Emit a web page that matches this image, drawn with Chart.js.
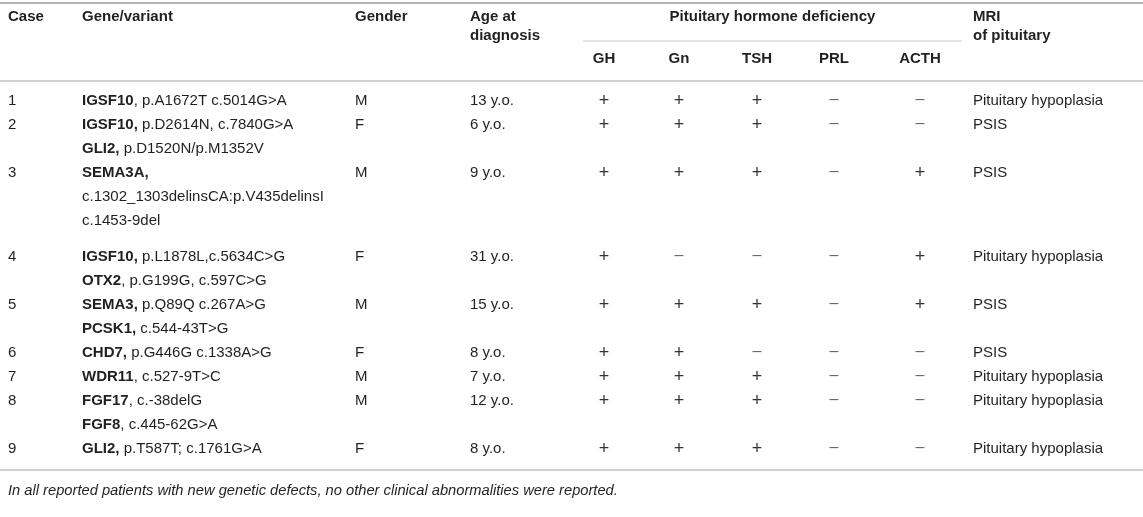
<!DOCTYPE html>
<html>
<head>
<meta charset="utf-8">
<script src="https://cdn.jsdelivr.net/npm/chart.js@4.4.1/dist/chart.umd.min.js"></script>
<style>
  html, body { margin: 0; padding: 0; background: #fff; }
  #wrap { width: 1143px; height: 517px; position: relative; }
</style>
</head>
<body>
<div id="wrap"><canvas id="tabla"></canvas></div>
<script>
// datos de la tabla
const cases = ['1', '2', '3', '4', '5', '6', '7', '8', '9'];
// ** marca el texto en negrita (nombre del gen)
const genes = [
  ['**IGSF10**, p.A1672T c.5014G>A'],
  ['**IGSF10,** p.D2614N, c.7840G>A', '**GLI2,** p.D1520N/p.M1352V'],
  ['**SEMA3A,**', 'c.1302_1303delinsCA:p.V435delinsI', 'c.1453-9del'],
  ['**IGSF10,** p.L1878L,c.5634C>G', '**OTX2**, p.G199G, c.597C>G'],
  ['**SEMA3,** p.Q89Q c.267A>G', '**PCSK1,** c.544-43T>G'],
  ['**CHD7,** p.G446G c.1338A>G'],
  ['**WDR11**, c.527-9T>C'],
  ['**FGF17**, c.-38delG', '**FGF8**, c.445-62G>A'],
  ['**GLI2,** p.T587T; c.1761G>A']
];
const genders = ['M', 'F', 'M', 'F', 'M', 'F', 'M', 'M', 'F'];
const ages = ['13 y.o.', '6 y.o.', '9 y.o.', '31 y.o.', '15 y.o.', '8 y.o.', '7 y.o.', '12 y.o.', '8 y.o.'];
const GH   = ['+', '+', '+', '+', '+', '+', '+', '+', '+'];
const Gn   = ['+', '+', '+', '–', '+', '+', '+', '+', '+'];
const TSH  = ['+', '+', '+', '–', '+', '–', '+', '+', '+'];
const PRL  = ['–', '–', '–', '–', '–', '–', '–', '–', '–'];
const ACTH = ['–', '–', '+', '+', '+', '–', '–', '–', '–'];
const mri  = ['Pituitary hypoplasia', 'PSIS', 'PSIS', 'Pituitary hypoplasia', 'PSIS', 'PSIS',
              'Pituitary hypoplasia', 'Pituitary hypoplasia', 'Pituitary hypoplasia'];
const hormoneLabels = ['GH', 'Gn', 'TSH', 'PRL', 'ACTH'];
const footnote = 'In all reported patients with new genetic defects, no other clinical abnormalities were reported.';

// layout (en pixeles del lienzo)
const W = 1143, H = 517;
const colX = { caso: 8, gen: 82, sexo: 355, edad: 470, mri: 973 };
const hormoneX = [604, 679, 757, 834, 920];
const firstLineY = 101, linePitch = 24, extraGapAfter = { 2: 12 };
const FONT = '"Liberation Sans", Arial, Helvetica, sans-serif';
const FS = 15;
const ink = '#231f20';

// posición vertical de cada línea de cada caso
const rowLines = [];
let yy = firstLineY;
genes.forEach((lines, i) => {
  const ys = [];
  lines.forEach(() => { ys.push(yy); yy += linePitch; });
  rowLines.push(ys);
  if (extraGapAfter[i]) yy += extraGapAfter[i];
});

function cellPoints(values, x) {
  return values.map((v, i) => ({ x: x, y: rowLines[i][0], text: v }));
}

const datasets = [
  { label: 'Case', data: cellPoints(cases, colX.caso), align: 'left' },
  { label: 'Gene/variant', data: genes.flatMap((lines, i) => lines.map((t, k) => ({ x: colX.gen, y: rowLines[i][k], text: t }))), align: 'left' },
  { label: 'Gender', data: cellPoints(genders, colX.sexo), align: 'left' },
  { label: 'Age', data: cellPoints(ages, colX.edad), align: 'left' },
  { label: 'GH', data: cellPoints(GH, hormoneX[0]), align: 'center', sign: true },
  { label: 'Gn', data: cellPoints(Gn, hormoneX[1]), align: 'center', sign: true },
  { label: 'TSH', data: cellPoints(TSH, hormoneX[2]), align: 'center', sign: true },
  { label: 'PRL', data: cellPoints(PRL, hormoneX[3]), align: 'center', sign: true },
  { label: 'ACTH', data: cellPoints(ACTH, hormoneX[4]), align: 'center', sign: true },
  { label: 'MRI', data: cellPoints(mri, colX.mri), align: 'left' }
].map(d => Object.assign(d, { pointRadius: 0, pointHoverRadius: 0, showLine: false }));

// dibuja texto con tramos en negrita
function drawRich(ctx, str, x, y, align) {
  const parts = str.split('**').map((t, i) => ({ t: t, b: i % 2 === 1 })).filter(p => p.t);
  let total = 0;
  parts.forEach(p => { ctx.font = (p.b ? 'bold ' : '') + FS + 'px ' + FONT; total += ctx.measureText(p.t).width; });
  let cx = align === 'center' ? x - total / 2 : x;
  ctx.textAlign = 'left';
  parts.forEach(p => {
    ctx.font = (p.b ? 'bold ' : '') + FS + 'px ' + FONT;
    ctx.fillText(p.t, cx, y);
    cx += ctx.measureText(p.t).width;
  });
}

const tablePlugin = {
  id: 'tablePlugin',
  afterDatasetsDraw(chart) {
    const ctx = chart.ctx;
    const xs = chart.scales.x, ys = chart.scales.y;
    const px = v => xs.getPixelForValue(v), py = v => ys.getPixelForValue(v);
    ctx.save();
    ctx.fillStyle = ink;
    ctx.textBaseline = 'middle';

    // reglas
    const rule = (x0, x1, y, w, c) => {
      ctx.strokeStyle = c; ctx.lineWidth = w;
      ctx.beginPath(); ctx.moveTo(px(x0), py(y)); ctx.lineTo(px(x1), py(y)); ctx.stroke();
    };
    rule(0, W, 3, 2, '#b3b3b3');
    rule(583, 962, 41, 1, '#c8c8c8');
    rule(0, W, 81, 1.5, '#c0c0c0');
    rule(0, W, 470, 1.5, '#c0c0c0');

    // encabezados
    const bold = 'bold ' + FS + 'px ' + FONT;
    ctx.font = bold; ctx.textAlign = 'left';
    ctx.fillText('Case', px(colX.caso), py(17));
    ctx.fillText('Gene/variant', px(colX.gen), py(17));
    ctx.fillText('Gender', px(colX.sexo), py(17));
    ctx.fillText('Age at', px(colX.edad), py(17));
    ctx.fillText('diagnosis', px(colX.edad), py(36));
    ctx.fillText('MRI', px(colX.mri), py(17));
    ctx.fillText('of pituitary', px(colX.mri), py(36));
    ctx.textAlign = 'center';
    ctx.fillText('Pituitary hormone deficiency', px((583 + 962) / 2), py(17));
    hormoneLabels.forEach((h, i) => ctx.fillText(h, px(hormoneX[i]), py(59)));

    // celdas: posición tomada de los elementos del gráfico
    chart.data.datasets.forEach((ds, di) => {
      const meta = chart.getDatasetMeta(di);
      meta.data.forEach((el, k) => {
        const t = ds.data[k].text;
        if (ds.sign) {
          // signos +/– algo más grandes y finos, como en la tabla original
          ctx.textAlign = 'center';
          if (t === '+') {
            ctx.font = '18px ' + FONT;
            ctx.fillStyle = '#333';
            ctx.fillText(t, el.x, el.y);
          } else {
            ctx.font = '16px ' + FONT;
            ctx.fillStyle = '#666';
            ctx.fillText(t, el.x, el.y - 1.5);
          }
          ctx.fillStyle = ink;
        } else {
          drawRich(ctx, t, el.x, el.y, ds.align);
        }
      });
    });

    // nota al pie
    ctx.font = 'italic 14.7px ' + FONT;
    ctx.textAlign = 'left';
    ctx.fillText(footnote, px(8), py(491));
    ctx.restore();
  }
};

new Chart(document.getElementById('tabla').getContext('2d'), {
  type: 'scatter',
  data: { datasets: datasets },
  options: {
    responsive: true,
    maintainAspectRatio: false,
    animation: false,
    layout: { padding: 0 },
    events: [],
    scales: {
      x: { type: 'linear', min: 0, max: W, display: false },
      y: { type: 'linear', min: 0, max: H, reverse: true, display: false }
    },
    plugins: { legend: { display: false }, tooltip: { enabled: false } }
  },
  plugins: [tablePlugin]
});
</script>
</body>
</html>
